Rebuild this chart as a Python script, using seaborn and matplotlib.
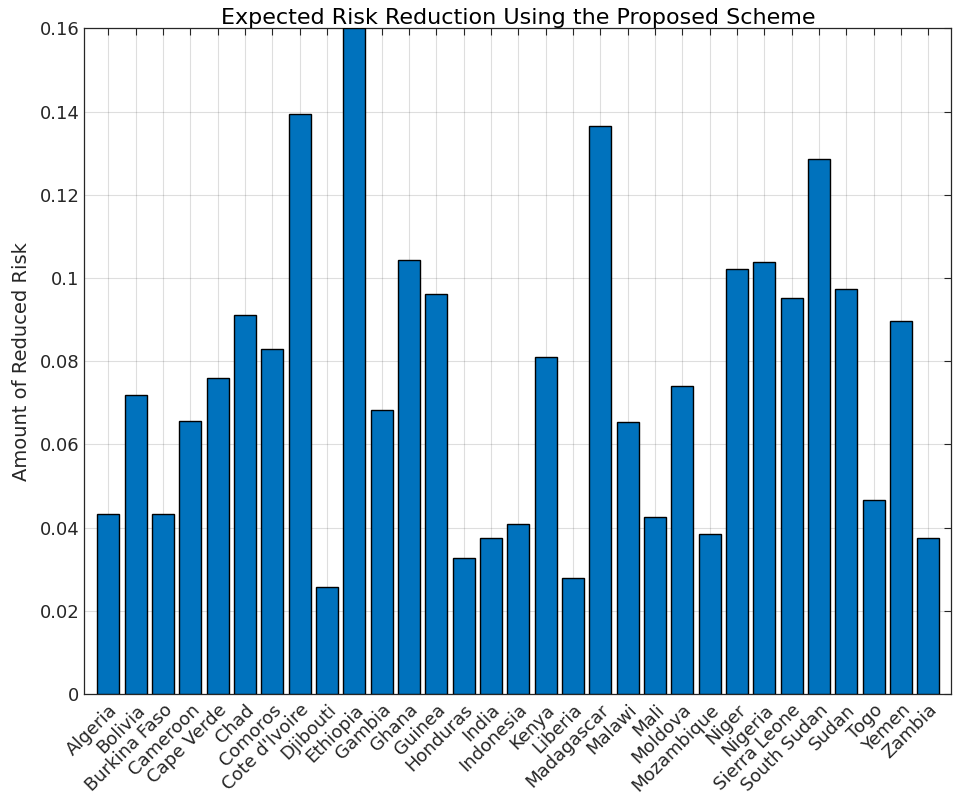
import matplotlib
matplotlib.use("Agg")
import matplotlib.pyplot as plt
import seaborn as sns
import pandas as pd
from matplotlib.ticker import FuncFormatter, MultipleLocator

countries = [
    "Algeria", "Bolivia", "Burkina Faso", "Cameroon", "Cape Verde", "Chad",
    "Comoros", "Cote d'Ivoire", "Djibouti", "Ethiopia", "Gambia", "Ghana",
    "Guinea", "Honduras", "India", "Indonesia", "Kenya", "Liberia",
    "Madagascar", "Malawi", "Mali", "Moldova", "Mozambique", "Niger",
    "Nigeria", "Sierra Leone", "South Sudan", "Sudan", "Togo", "Yemen", "Zambia",
]
reduced_risk = [
    0.0432, 0.0719, 0.0432, 0.0656, 0.0759, 0.0911,
    0.0829, 0.1394, 0.0257, 0.1600, 0.0682, 0.1043,
    0.0961, 0.0326, 0.0374, 0.0408, 0.0810, 0.0278,
    0.1365, 0.0653, 0.0425, 0.0740, 0.0384, 0.1021,
    0.1038, 0.0951, 0.1286, 0.0973, 0.0466, 0.0896, 0.0374,
]

df = pd.DataFrame({"country": countries, "risk": reduced_risk})

sns.set_style("white")
plt.rcParams["font.family"] = ["DejaVu Sans"]

fig = plt.figure(figsize=(9.54, 8.02), dpi=100)
ax = fig.add_axes([0.0884, 0.1347, 0.9088, 0.83])

ax.set_axisbelow(True)
sns.barplot(data=df, x="country", y="risk", color="#0072BD", saturation=1,
            edgecolor="black", linewidth=1.0, width=0.8, ax=ax, zorder=3)

ax.set_xlim(-0.88, len(countries) - 1 + 0.84)
ax.set_ylim(0, 0.16)
ax.yaxis.set_major_locator(MultipleLocator(0.02))
ax.yaxis.set_major_formatter(FuncFormatter(lambda v, p: f"{v:g}"))

ax.grid(True, color="#262626", alpha=0.15, linewidth=0.8, zorder=0)
ax.tick_params(axis="both", direction="in", length=5, width=0.8,
               colors="#262626", labelsize=13,
               top=True, right=True, labelcolor="#262626")
ax.tick_params(axis="x", pad=5)
for s in ax.spines.values():
    s.set_color("#262626")
    s.set_linewidth(0.9)

plt.setp(ax.get_xticklabels(), rotation=45, ha="right", rotation_mode="anchor")

ax.set_xlabel("")
ax.set_ylabel("Amount of Reduced Risk", fontsize=14, color="#262626", labelpad=6)
ax.set_title("Expected Risk Reduction Using the Proposed Scheme",
             fontsize=16, color="black", pad=3)

fig.savefig("out.png", dpi=100)
